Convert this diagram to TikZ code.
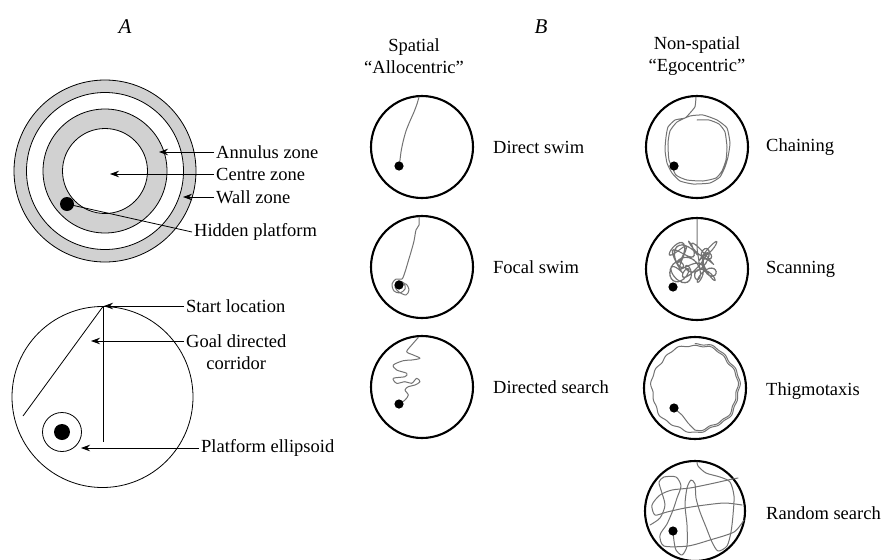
\documentclass[tikz,border=0pt]{standalone}
\usepackage{fontspec}
\setmainfont{Liberation Serif}
\usetikzlibrary{arrows.meta}
\begin{document}
\begin{tikzpicture}[x=1pt,y=-1pt,
  lbl/.style={font=\fontsize{18.5pt}{22pt}\selectfont, inner sep=2pt},
  ttl/.style={font=\fontsize{21pt}{24pt}\selectfont\itshape, inner sep=0pt},
  arr/.style={line width=0.8pt, -{Stealth[length=9pt,width=6.5pt]}},
  thin/.style={line width=0.8pt},
  pool/.style={line width=2.1pt},
  trk/.style={draw=black!55, line width=1pt, line join=round, line cap=round},
  zonegray/.style={fill=black!18}]
\useasboundingbox (0,0) rectangle (887,560);

% ---------------- Panel A ----------------
\node[ttl] (tA) at (125,27) {A};
\node[ttl] (tB) at (541,27) {B};

\coordinate (cA) at (105,171);
\fill[zonegray] (cA) circle (91pt);
\fill[white] (cA) circle (78.5pt);
\fill[zonegray] (cA) circle (62pt);
\fill[white] (cA) circle (42.5pt);
\draw[thin] (cA) circle (91pt) (cA) circle (78.5pt) (cA) circle (62pt) (cA) circle (42.5pt);
\coordinate (hp) at (67,204);
\fill[black] (hp) circle (7pt);

\node[lbl, anchor=west] (annl) at (214,152) {Annulus zone};
\node[lbl, anchor=west] (cenl) at (214,174) {Centre zone};
\node[lbl, anchor=west] (wall) at (214,197) {Wall zone};
\node[lbl, anchor=west] (hidl) at (192,232) {Hidden platform};
\coordinate (annt) at (159,152);
\coordinate (cent) at (110,174);
\coordinate (wallt) at (183,197);
\draw[arr] (annl.west) -- (annt);
\draw[arr] (cenl.west) -- (cent);
\draw[arr] (wall.west) -- (wallt);
\draw[thin] (hp) -- (hidl.west);

% lower A
\coordinate (cB) at (102.5,397);
\draw[thin] (cB) circle (90.5pt);
\coordinate (st) at (103,306.5);
\coordinate (diag) at (23,416);
\coordinate (vert) at (103,442);
\draw[thin] (st) -- (diag);
\draw[thin] (st) -- (vert);
\coordinate (pe) at (62,432);
\draw[thin] (pe) circle (19.5pt);
\fill[black] (pe) circle (8pt);

\node[lbl, anchor=west] (stl) at (184,306) {Start location};
\node[lbl, anchor=west, align=center] (gdl) at (184,352) {Goal directed\\corridor};
\node[lbl, anchor=west] (pel) at (199,448) {Platform ellipsoid};
\coordinate (stt) at (104,306);
\coordinate (gdt) at (91,341);
\coordinate (pet) at (81,448);
\draw[arr] (stl.west) -- (stt);
\draw[arr] (gdl.west |- gdt) -- (gdt);
\draw[arr] (pel.west) -- (pet);

% ---------------- Panel B: spatial ----------------
\node[lbl, align=center] (spt) at (414,56) {Spatial\\\textquotedblleft Allocentric\textquotedblright};

\draw[pool] (422,147) circle (51pt);
\draw[trk] plot[smooth, tension=0.5] coordinates {(419,97) (417,104) (414,112) (410,121) (406,131) (403,142) (401,152) (400,160) (399,166)};
\fill[black] (399,166) circle (4.6pt);
\node[lbl, anchor=west] (ds) at (491,147) {Direct swim};

\draw[pool] (422,267) circle (51pt);
\draw[trk] plot[smooth, tension=0.5] coordinates {(419,217) (419,225) (416,230) (414,241) (411,252) (408,262) (405,272) (402,279) (396,279) (392,284) (394,291) (400,293) (405,289) (404,283) (398,281) (395,287) (399,292) (406,295) (409,290) (406,284) (400,285)};
\fill[black] (399,285) circle (4.6pt);
\node[lbl, anchor=west] (fs) at (491,267) {Focal swim};

\draw[pool] (422,387) circle (51pt);
\draw[trk] plot[smooth, tension=0.5] coordinates {(418.3,337.5) (411.7,345) (406.7,351.7) (413.3,355) (420,358.3) (411.7,360) (403.3,360.7) (393.3,365) (396.7,370) (406.7,373.3) (405,376.7) (393.3,378.3) (396.7,383.3) (405,381.7) (411.7,383.3) (416.7,378.3) (420,381.7) (415,385) (408.3,386.7) (405,390) (408.3,395) (405,400) (399.3,404)};
\fill[black] (399,404) circle (4.6pt);
\node[lbl, anchor=west] (dsr) at (491,387) {Directed search};

% ---------------- Panel B: non-spatial ----------------
\node[lbl, align=center] (nst) at (697,56) {Non-spatial\\\textquotedblleft Egocentric\textquotedblright};

% chaining
\draw[pool] (697,147) circle (51pt);
\draw[trk] plot[smooth, tension=0.3] coordinates {(696,97) (695,106.7) (690,113) (685,118) (675,120) (668,127) (666,137) (665,150) (667,163) (672,173) (680,181) (693,184) (710,183) (720,177) (725,167) (728,157) (730,143) (727,128) (717,120) (703,115) (690,116) (677,122) (670,131) (668,143) (669,160) (676,175) (687,180) (703,181) (716,178) (722,171) (726,160) (727,147) (725,132) (719,124) (709,120) (697,120)};
\fill[black] (674,166) circle (4.6pt);
\node[lbl, anchor=west] (chn) at (764,147) {Chaining};

% scanning
\draw[pool] (697,269) circle (51pt);
\draw[trk] (697,219) -- (697,248) -- plot[samples=320, domain=0:720, variable=\t] ({693+17*sin(3*\t)+7*cos(17*\t)}, {262+14*sin(4*\t+30)+7*sin(19*\t)});
\fill[black] (673,287) circle (4.6pt);
\node[lbl, anchor=west] (scn) at (764,269) {Scanning};

% thigmotaxis
\draw[pool] (695,388) circle (51pt);
\draw[trk] plot[samples=260, domain=90:-450, variable=\t] ({695+(42+0.005*(\t+450)+0.9*sin(7*\t)+0.7*sin(17*\t))*cos(\t)}, {388-(42+0.005*(\t+450)+0.9*sin(7*\t)+0.7*sin(17*\t))*sin(\t)}) -- (688,423) -- (682,415) -- (674,408);
\fill[black] (674,408) circle (4.6pt);
\node[lbl, anchor=west] (thg) at (764,391) {Thigmotaxis};

% random search
\draw[pool] (695,511) circle (50pt);
\draw[trk] plot[smooth, tension=0.45] coordinates {(673,531) (674,541) (676,550) (682,555) (687,546) (687,525) (685,505) (687,488) (691,480) (695,484) (696,498) (700,512) (706,527) (712,542) (718,551) (727,546) (731,532) (733,515) (734,496) (730,482) (720,477) (706,473) (698,466) (697,462)};
\draw[trk] plot[smooth, tension=0.45] coordinates {(738,478) (728,480) (710,484) (690,488) (672,490) (660,495) (652,505) (655,515) (667,512) (685,508) (705,505) (725,503) (742,505)};
\draw[trk] plot[smooth, tension=0.45] coordinates {(650,525) (660,518) (665,505) (661,490) (659,482) (664,477) (676,477) (681,486) (677,498) (673,510) (667,524) (660,535) (664,546) (688,546) (710,540) (734,532) (744,520)};
\fill[black] (673,531) circle (4.6pt);
\node[lbl, anchor=west] (rnd) at (764,513) {Random search};
\end{tikzpicture}
\end{document}
